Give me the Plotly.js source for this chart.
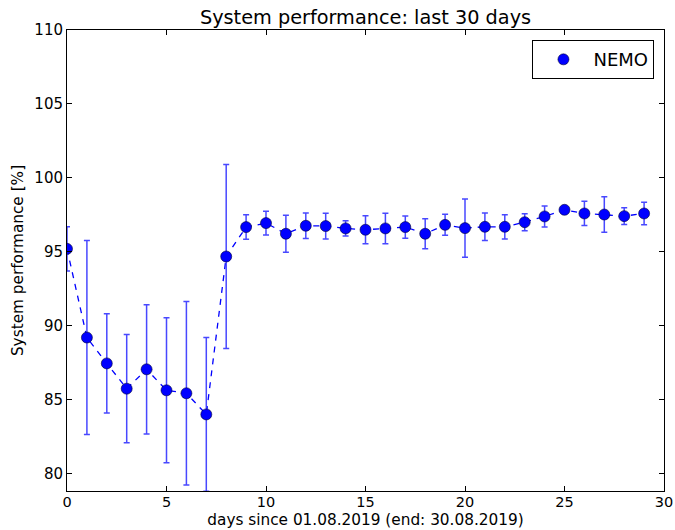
<!DOCTYPE html>
<html>
<head>
<meta charset="utf-8">
<script src="https://cdn.plot.ly/plotly-3.0.1.min.js"></script>
<style>html,body{margin:0;padding:0;background:#fff;}#chart{width:675px;height:530px;}</style>
</head>
<body>
<div id="chart"></div>
<script>
const days = [0,1,2,3,4,5,6,7,8,9,10,11,12,13,14,15,16,17,18,19,20,21,22,23,24,25,26,27,28,29];
const performance = [95.2,89.2,87.45,85.74,87.05,85.63,85.43,84.0,94.68,96.67,96.94,96.22,96.76,96.74,96.58,96.49,96.58,96.67,96.22,96.82,96.6,96.69,96.69,97.0,97.39,97.84,97.59,97.52,97.41,97.59];
const errors = [1.5,6.56,3.35,3.66,4.37,4.9,6.2,5.2,6.23,0.83,0.8,1.25,0.87,0.87,0.52,0.95,1.03,0.75,1.02,0.71,1.97,0.93,0.82,0.57,0.71,0.18,0.82,1.2,0.56,0.76];
const seriesName = 'NEMO';
const xTicks = [0,5,10,15,20,25,30];
const yTicks = [80,85,90,95,100,105,110];

const font = 'DejaVu Sans, sans-serif';
const traces = [
  {
    x: days, y: performance, mode: 'lines', showlegend: false, hoverinfo: 'skip',
    line: {color: '#0000ff', width: 1.3, dash: '6px,6px'}
  },
  {
    x: days, y: performance, mode: 'markers', name: seriesName,
    marker: {color: '#0000ff', size: 11, line: {color: '#000033', width: 0.6}},
    error_y: {type: 'data', array: errors, visible: true, color: 'rgba(40,40,255,0.85)', thickness: 1.5, width: 3}
  }
];
const layout = {
  width: 675, height: 530,
  margin: {l: 67, r: 11, t: 30, b: 39},
  paper_bgcolor: '#fff', plot_bgcolor: '#fff',
  font: {family: font, color: '#000', size: 15},
  title: {text: 'System performance: last 30 days', font: {family: font, size: 19.3, color: '#000'}, xref: 'paper', x: 0.5, xanchor: 'center', yref: 'container', y: 0.967, yanchor: 'middle'},
  xaxis: {
    range: [0, 30], tickvals: xTicks, ticktext: xTicks.map(String),
    showgrid: false, zeroline: false, showline: true, linecolor: '#000', linewidth: 1,
    mirror: 'ticks', ticks: 'inside', ticklen: 5, tickcolor: '#000', ticklabeloverflow: 'allow',
    ticklabelstandoff: -2,
    tickfont: {family: font, size: 14.5, color: '#000'},
    title: {text: 'days since 01.08.2019 (end: 30.08.2019)', font: {family: font, size: 15.3, color: '#000'}, standoff: 4}
  },
  yaxis: {
    range: [78.82, 110], tickvals: yTicks, ticktext: yTicks.map(String),
    showgrid: false, zeroline: false, showline: true, linecolor: '#000', linewidth: 1,
    mirror: 'ticks', ticks: 'inside', ticklen: 5, tickcolor: '#000', ticklabeloverflow: 'allow',
    tickfont: {family: font, size: 15, color: '#000'},
    title: {text: 'System performance [%]', font: {family: font, size: 15.3, color: '#000'}, standoff: 7}
  },
  legend: {
    x: 0.984, y: 0.978, xanchor: 'right', yanchor: 'top',
    bgcolor: '#fff', bordercolor: '#000', borderwidth: 1, itemwidth: 50,
    font: {family: font, size: 18, color: '#000'}
  },
  showlegend: true
};
Plotly.newPlot('chart', traces, layout, {displayModeBar: false, staticPlot: true});
</script>
</body>
</html>
